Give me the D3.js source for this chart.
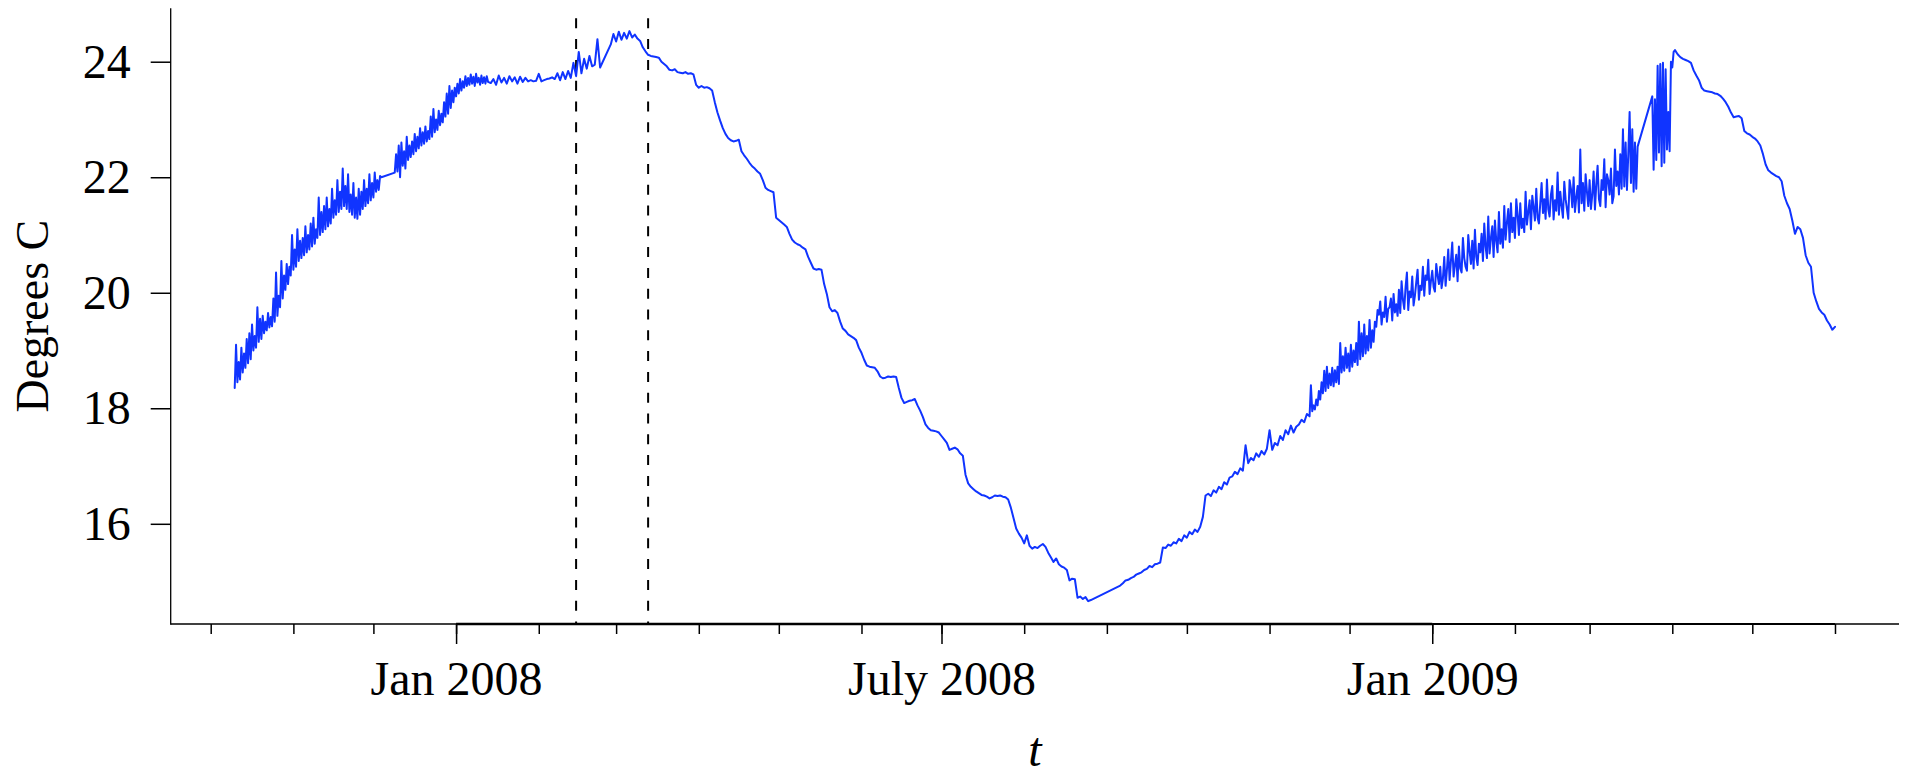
<!DOCTYPE html>
<html>
<head>
<meta charset="utf-8">
<script src="https://cdn.jsdelivr.net/npm/d3@7"></script>
<style>
  html, body { margin: 0; padding: 0; background: #fff; }
  svg { display: block; }
  text { font-family: "Liberation Serif", "Times New Roman", serif; fill: #000; }
</style>
</head>
<body>
<svg id="chart" width="1908" height="775"></svg>
<script>
// Logger readings, stored as runs of evenly spaced values (degrees C).
// Runs are joined by straight segments where the logger had gaps.
const runStarts = ["2007-10-10T00:00Z", "2007-12-09T00:00Z", "2008-01-14T00:00Z",
                   "2008-02-28T00:00Z", "2008-09-06T00:00Z", "2008-11-16T00:00Z",
                   "2009-03-24T12:00Z", "2009-04-02T00:00Z"];
const runStepHours = [12, 12, 24, 24, 24, 12, 12, 24];

const run1Temps = [18.35,19.10,18.45,18.80,18.50,19.05,18.62,18.95,18.70,19.20,
  18.78,19.30,18.85,19.45,19.00,19.25,19.05,19.75,19.15,19.55,
  19.20,19.60,19.30,19.50,19.35,19.65,19.40,19.58,19.42,19.90,
  19.50,20.35,19.60,19.95,19.75,20.55,19.90,20.30,20.05,20.50,
  20.15,20.45,20.30,21.00,20.40,20.75,20.45,21.10,20.55,20.90,
  20.60,20.95,20.65,21.15,20.70,21.00,20.75,21.20,20.80,21.30,
  20.85,21.10,20.95,21.65,21.00,21.40,21.05,21.50,21.10,21.65,
  21.15,21.45,21.20,21.80,21.30,21.60,21.35,21.95,21.40,21.75,
  21.45,22.15,21.50,21.85,21.45,22.05,21.40,21.70,21.35,21.90,
  21.30,21.65,21.28,21.80,21.35,21.75,21.45,21.95,21.50,21.80,
  21.55,22.05,21.60,21.90,21.65,22.08,21.75,21.95,21.78,22.02,
  22.00];

const run2Temps = [22.08,22.40,22.10,22.55,22.00,22.60,22.20,22.45,22.15,22.70,
  22.30,22.55,22.35,22.62,22.40,22.75,22.45,22.70,22.50,22.85,
  22.55,22.78,22.58,22.88,22.62,22.80,22.66,23.05,22.70,23.18,
  22.78,23.00,22.82,23.15,22.90,23.10,22.95,23.30,23.05,23.45,
  23.10,23.58,23.20,23.50,23.30,23.55,23.40,23.62,23.45,23.70,
  23.50,23.66,23.55,23.75,23.58,23.72,23.60,23.78,23.62,23.74,
  23.58,23.79,23.64,23.72,23.60,23.76,23.63,23.73,23.62,23.75,
  23.65];

const run3Temps = [23.63,23.70,23.60,23.76,23.64,23.72,23.62,23.75,23.66,23.73,
  23.62,23.74,23.65,23.72,23.66,23.68,23.66,23.67,23.79,23.66,
  23.68,23.70,23.71,23.73,23.70,23.80,23.68,23.82,23.70,23.84,
  23.72,23.98,23.75,24.17,23.80,24.05,23.88,24.10,23.92,23.95,
  24.39,23.90];

const run4Temps = [24.30,24.48,24.35,24.52,24.38,24.50,24.40,24.53,24.42,24.47,24.40,24.36,
  24.25,24.18,24.12,24.10,24.09,24.08,24.07,24.00,23.96,23.92,
  23.86,23.85,23.87,23.82,23.81,23.80,23.82,23.79,23.80,23.78,
  23.60,23.55,23.58,23.55,23.56,23.54,23.50,23.30,23.12,22.98,
  22.85,22.75,22.68,22.64,22.62,22.63,22.65,22.45,22.38,22.32,
  22.25,22.19,22.15,22.10,22.06,21.95,21.82,21.78,21.76,21.74,
  21.30,21.26,21.22,21.18,21.14,21.02,20.92,20.87,20.84,20.82,
  20.78,20.75,20.62,20.52,20.42,20.40,20.41,20.40,20.15,19.98,
  19.75,19.68,19.70,19.65,19.50,19.38,19.34,19.28,19.25,19.22,
  19.18,19.05,18.96,18.84,18.74,18.72,18.71,18.70,18.64,18.55,
  18.52,18.53,18.55,18.54,18.55,18.54,18.35,18.18,18.09,18.11,
  18.13,18.14,18.16,18.05,17.96,17.85,17.72,17.66,17.62,17.61,
  17.60,17.58,17.52,17.46,17.40,17.28,17.30,17.32,17.29,17.22,
  17.18,16.85,16.70,16.64,16.60,16.56,16.53,16.50,16.49,16.47,
  16.44,16.46,16.49,16.48,16.49,16.47,16.46,16.42,16.28,16.10,
  15.92,15.83,15.76,15.66,15.80,15.62,15.57,15.60,15.58,15.62,
  15.65,15.60,15.50,15.42,15.34,15.40,15.30,15.26,15.24,15.20,
  15.02,15.05,15.04,14.72,14.74,14.70,14.73,14.66,14.68];

const run5Temps = [14.93,14.97,15.02,15.03,15.06,15.08,15.12,15.14,15.16,15.20,
  15.22,15.27,15.25,15.30,15.31,15.33,15.59,15.58,15.64,15.62,
  15.68,15.66,15.74,15.70,15.80,15.76,15.86,15.82,15.90,15.86,
  15.95,16.12,16.49,16.52,16.48,16.58,16.54,16.64,16.60,16.72,
  16.68,16.80,16.82,16.90,16.86,16.96,16.92,17.36,17.05,17.14,
  17.10,17.22,17.16,17.26,17.20,17.30,17.62,17.28,17.40,17.36,
  17.52,17.45,17.62,17.55,17.70,17.58,17.68,17.72,17.80,17.76,
  17.90];

const run6Temps = [17.86,18.40,17.95,18.05,17.98,18.15,18.05,18.30,18.15,18.45,
  18.26,18.65,18.30,18.72,18.35,18.60,18.40,18.70,18.38,18.66,
  18.45,18.72,18.42,19.13,18.62,18.90,18.65,19.05,18.70,18.95,
  18.64,19.10,18.72,19.00,18.80,19.13,18.75,19.50,18.85,19.30,
  18.90,19.45,18.95,19.25,19.00,19.53,19.05,19.35,19.15,19.50,
  19.41,19.70,19.62,19.85,19.45,19.66,19.58,19.93,19.50,19.72,
  19.75,19.90,19.52,19.98,19.66,19.80,19.60,20.05,19.65,20.20,
  19.88,19.72,20.10,20.35,19.70,20.02,19.92,20.28,19.78,19.95,
  20.18,20.40,19.88,20.12,20.05,20.45,19.95,20.30,20.22,20.57,
  19.98,20.20,20.38,20.10,20.02,20.50,20.30,20.15,20.45,20.08,
  20.25,20.62,20.12,20.40,20.75,20.22,20.55,20.87,20.28,20.48,
  20.66,20.20,20.80,20.42,20.35,20.95,20.60,20.45,20.38,21.00,
  20.72,20.50,20.90,20.42,21.09,20.62,20.48,20.85,20.70,21.02,
  20.55,21.20,20.80,20.60,21.32,20.68,20.95,21.15,20.62,21.25,
  20.90,20.70,21.40,20.85,21.10,20.78,21.50,20.92,21.22,21.45,
  20.88,21.55,21.05,21.30,20.95,21.62,21.35,21.00,21.55,21.12,
  21.28,21.05,21.75,21.18,21.40,21.60,21.10,21.68,21.48,21.25,
  21.80,21.30,21.20,21.55,21.90,21.38,21.62,21.28,21.96,21.45,
  21.32,21.70,21.85,21.27,21.60,21.42,22.08,21.35,21.75,21.50,
  21.30,21.92,21.62,21.45,21.28,21.95,21.80,21.48,22.00,21.40,
  21.65,21.85,21.39,22.48,21.55,21.90,21.42,22.05,21.75,21.50,
  21.95,21.45,21.70,22.10,21.44,21.88,22.20,21.62,21.50,21.95,
  21.78,22.31,21.48,22.05,21.95,21.70,22.15,21.55,21.67,22.48,
  21.85,22.10,21.70,22.40,21.80,22.83,21.84,22.60,21.78,22.40,
  23.13,21.90,22.83,21.75,22.60,21.80,22.53];

const run7Temps = [23.40,22.13,23.35,22.30,23.93,22.43,23.96,22.19,23.98,22.25,
  23.87,22.48,23.13,22.45,24.00,23.90,24.17];

const run8Temps = [24.20,24.13,24.08,24.05,24.03,24.01,23.98,23.85,23.76,23.68,
  23.55,23.50,23.49,23.48,23.47,23.45,23.44,23.41,23.36,23.30,
  23.22,23.12,23.04,23.05,23.06,23.02,22.80,22.76,22.74,22.70,
  22.67,22.62,22.55,22.40,22.22,22.12,22.08,22.05,22.02,22.00,
  21.93,21.68,21.55,21.45,21.25,21.02,21.14,21.10,20.95,20.65,
  20.52,20.45,20.00,19.85,19.72,19.66,19.62,19.52,19.45,19.36,
  19.41];

// Dates marked by the dashed verticals
const markerDates = ["2008-02-15", "2008-03-13"];

// Axis ticks
const minorTickStart = "2007-10-01", minorTickEnd = "2009-06-01";
const majorTickDates = ["2008-01-01", "2008-07-01", "2009-01-01"];
const majorTickLabels = ["Jan 2008", "July 2008", "Jan 2009"];
const yTickValues = [16, 18, 20, 22, 24];

// ---- assemble readings ----
const runTemps = [run1Temps, run2Temps, run3Temps, run4Temps,
                  run5Temps, run6Temps, run7Temps, run8Temps];
const readings = [];
runTemps.forEach((temps, r) => {
  const t0 = new Date(runStarts[r]).getTime();
  temps.forEach((v, i) => {
    readings.push({ date: new Date(t0 + i * runStepHours[r] * 3600e3), temp: v });
  });
});

// ---- layout ----
const plot = { left: 170.7, right: 1899, top: 8.3, bottom: 624 };
const fontSize = 48;
const svg = d3.select("#chart");

// R-style 4% padding around the data range
const [tMin, tMax] = d3.extent(readings, d => d.date);
const tPad = (tMax - tMin) * 0.04;
const x = d3.scaleUtc()
  .domain([new Date(+tMin - tPad), new Date(+tMax + tPad)])
  .range([plot.left, plot.right]);

const [vMin, vMax] = d3.extent(readings, d => d.temp);
const vPad = (vMax - vMin) * 0.04;
const y = d3.scaleLinear()
  .domain([vMin - vPad, vMax + vPad])
  .range([plot.bottom, plot.top]);

// ---- dashed markers ----
svg.append("g")
  .selectAll("line")
  .data(markerDates.map(s => new Date(s + "T00:00Z")))
  .join("line")
  .attr("x1", d => x(d)).attr("x2", d => x(d))
  .attr("y1", plot.top).attr("y2", plot.bottom)
  .attr("stroke", "#000")
  .attr("stroke-width", 2)
  .attr("stroke-dasharray", "10 10.8")
  .attr("stroke-dashoffset", 10.8);

// ---- temperature trace ----
svg.append("path")
  .datum(readings)
  .attr("fill", "none")
  .attr("stroke", "#1034ff")
  .attr("stroke-width", 2)
  .attr("stroke-linejoin", "round")
  .attr("stroke-linecap", "round")
  .attr("d", d3.line().x(d => x(d.date)).y(d => y(d.temp)));

// ---- x axis ----
const minorTicks = d3.utcMonth.range(new Date(minorTickStart + "T00:00Z"),
                                     d3.utcDay.offset(new Date(minorTickEnd + "T00:00Z"), 1));
const majorTicks = majorTickDates.map(s => new Date(s + "T00:00Z"));

const gxMinor = svg.append("g")
  .attr("transform", `translate(0,${plot.bottom})`)
  .call(d3.axisBottom(x).tickValues(minorTicks).tickSize(10).tickFormat(""));
gxMinor.select(".domain").remove();
gxMinor.selectAll(".tick line").attr("stroke-width", 1.5);

const gxMajor = svg.append("g")
  .attr("transform", `translate(0,${plot.bottom})`)
  .call(d3.axisBottom(x).tickValues(majorTicks).tickSize(20).tickPadding(17)
    .tickFormat((d, i) => majorTickLabels[i]));
gxMajor.select(".domain").remove();
gxMajor.attr("font-family", null).attr("font-size", fontSize);
gxMajor.selectAll(".tick line").attr("stroke-width", 1.5);
gxMajor.selectAll(".tick text").attr("fill", "#000");

// axis base lines
const axisG = svg.append("g").attr("stroke", "#000").attr("stroke-linecap", "butt");
axisG.append("line")
  .attr("x1", plot.left).attr("x2", plot.right)
  .attr("y1", plot.bottom).attr("y2", plot.bottom)
  .attr("stroke-width", 1.3);
axisG.append("line")
  .attr("x1", x(majorTicks[majorTicks.length - 1])).attr("x2", x(minorTicks[minorTicks.length - 1]))
  .attr("y1", plot.bottom).attr("y2", plot.bottom)
  .attr("stroke-width", 1.9);
axisG.append("line")
  .attr("x1", x(majorTicks[0])).attr("x2", x(majorTicks[majorTicks.length - 1]))
  .attr("y1", plot.bottom).attr("y2", plot.bottom)
  .attr("stroke-width", 2.5);
axisG.append("line")
  .attr("x1", plot.left).attr("x2", plot.left)
  .attr("y1", plot.top).attr("y2", plot.bottom + 0.65)
  .attr("stroke-width", 1.3);

// ---- y axis ----
const gy = svg.append("g")
  .attr("transform", `translate(${plot.left},0)`)
  .call(d3.axisLeft(y).tickValues(yTickValues).tickSize(20).tickPadding(20).tickFormat(d3.format("d")));
gy.select(".domain").remove();
gy.attr("font-family", null).attr("font-size", fontSize);
gy.selectAll(".tick line").attr("stroke-width", 1.5);
gy.selectAll(".tick text").attr("fill", "#000");

// ---- axis titles ----
svg.append("text")
  .attr("x", (plot.left + plot.right) / 2)
  .attr("y", 766)
  .attr("text-anchor", "middle")
  .attr("font-size", fontSize)
  .attr("font-style", "italic")
  .text("t");

svg.append("text")
  .attr("transform", `translate(48,${(plot.top + plot.bottom) / 2}) rotate(-90)`)
  .attr("text-anchor", "middle")
  .attr("font-size", 46)
  .text("Degrees C");
</script>
</body>
</html>
